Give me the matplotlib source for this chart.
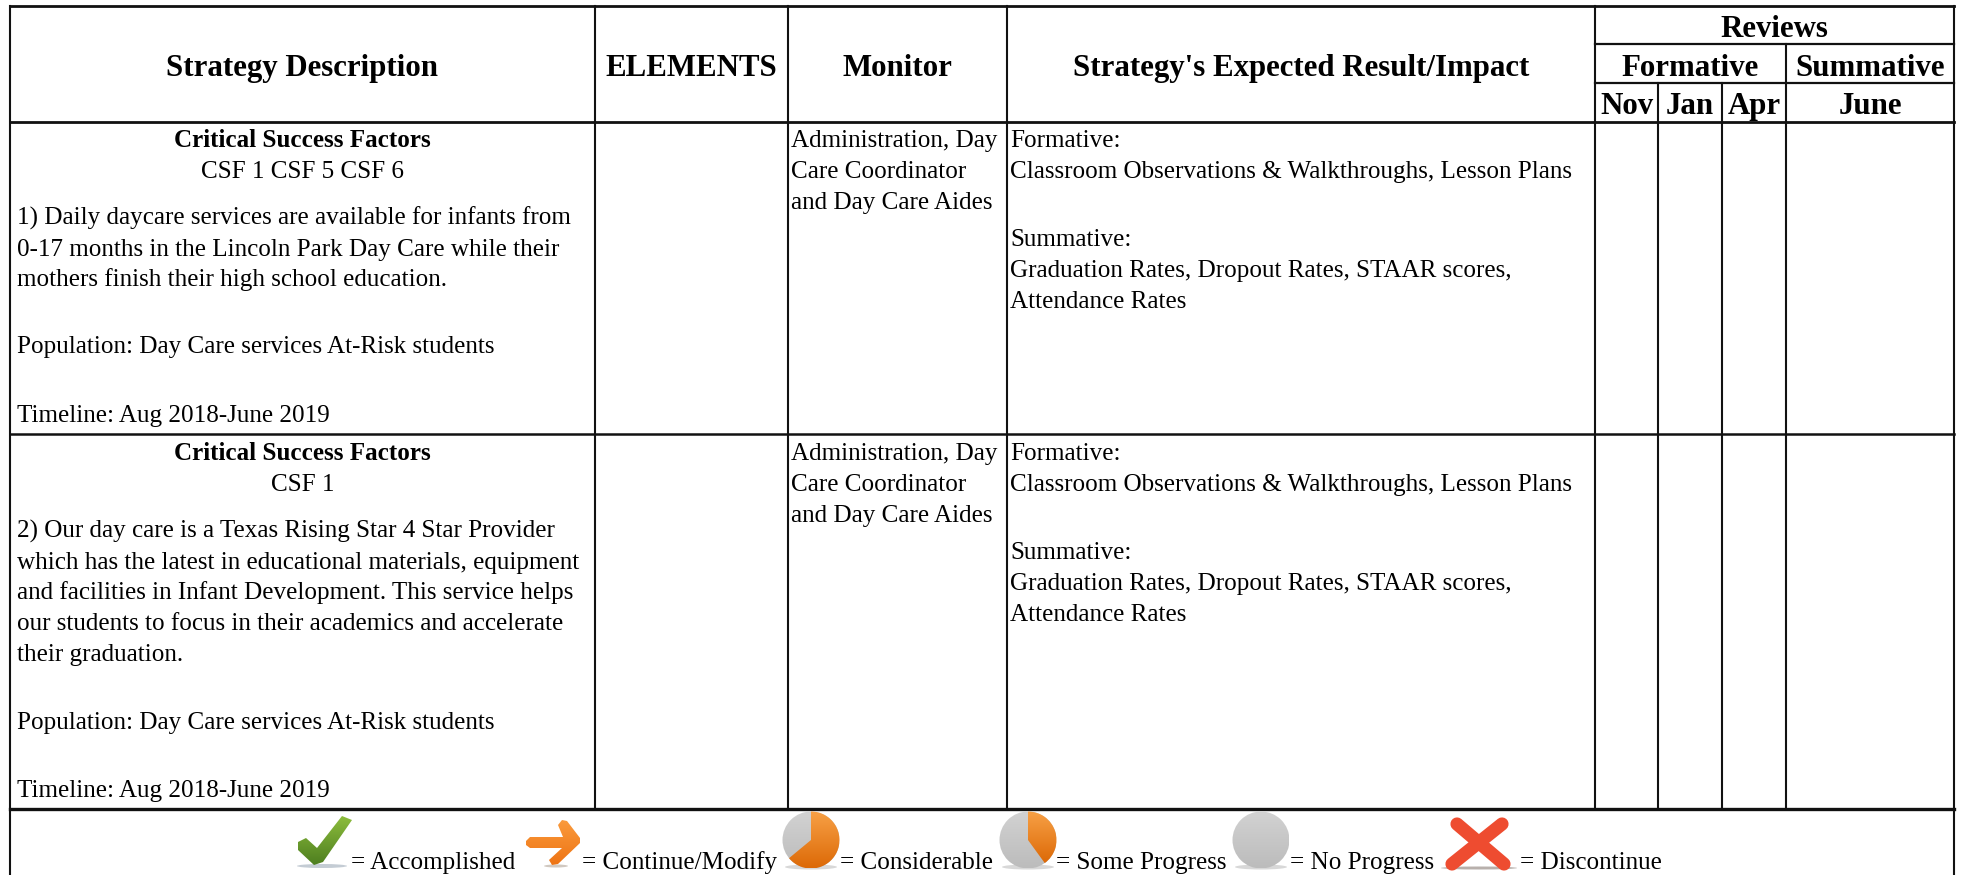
"""Campus plan strategy table with review columns and status legend."""
import matplotlib
matplotlib.use("Agg")
import matplotlib.pyplot as plt
import numpy as np
from matplotlib.colors import to_rgb
from matplotlib.patches import Circle, Ellipse, Polygon, Wedge

plt.rcParams["font.family"] = ["Liberation Serif", "DejaVu Serif"]

W, H = 1961, 875
BODY = 18.1
HEAD = 22.2

HEADERS = ["Strategy Description", "ELEMENTS", "Monitor", "Strategy's Expected Result/Impact"]
REVIEWS = "Reviews"
REVIEW_GROUPS = ["Formative", "Summative"]
REVIEW_MONTHS = ["Nov", "Jan", "Apr", "June"]

CSF_TITLE = "Critical Success Factors"
CSF_LABELS = ["CSF 1 CSF 5 CSF 6", "CSF 1"]
STRATEGY_1 = [
    "1) Daily daycare services are available for infants from",
    "0-17 months in the Lincoln Park Day Care while their",
    "mothers finish their high school education.",
    "Population: Day Care services At-Risk students",
    "Timeline: Aug 2018-June 2019",
]
STRATEGY_2 = [
    "2) Our day care is a Texas Rising Star 4 Star Provider",
    "which has the latest in educational materials, equipment",
    "and facilities in Infant Development. This service helps",
    "our students to focus in their academics and accelerate",
    "their graduation.",
    "Population: Day Care services At-Risk students",
    "Timeline: Aug 2018-June 2019",
]
MONITOR = ["Administration, Day", "Care Coordinator", "and Day Care Aides"]
IMPACT = [
    "Formative:",
    "Classroom Observations & Walkthroughs, Lesson Plans",
    "Summative:",
    "Graduation Rates, Dropout Rates, STAAR scores,",
    "Attendance Rates",
]
LEGEND_LABELS = ["= Accomplished", "= Continue/Modify", "= Considerable",
                 "= Some Progress", "= No Progress", "= Discontinue"]
PIE_FRACTIONS = [0.64, 0.40, 0.0]

# pixel layout
COL_X = [10, 595, 788, 1007, 1595, 1954]
MONTH_X = [1595, 1658, 1722, 1786, 1954]
ROW_Y = [6, 122, 434, 809]
STRATEGY_1_Y = [225, 256, 286, 353, 422]
STRATEGY_2_Y = [538, 569, 599, 630, 661, 729, 797]
MONITOR_Y = [147, 178, 209]
IMPACT_Y = [147, 178, 246, 277, 308]
ROW2_OFFSET = 313
LEGEND_X = [351, 582, 840, 1056, 1290, 1520]
LEGEND_Y = 869
PIE_X = [811, 1028, 1261]

fig = plt.figure(figsize=(W / 100, H / 100), dpi=100)
ax = fig.add_axes([0, 0, 1, 1])
ax.set_xlim(0, W)
ax.set_ylim(H, 0)
ax.axis("off")


def _hline(y, x0=COL_X[0], x1=COL_X[-1], lw=1.6):
    ax.plot([x0, x1], [y, y], color="#111111", lw=lw, solid_capstyle="projecting")


def _vline(x, y0=ROW_Y[0], y1=ROW_Y[-1], lw=1.5):
    ax.plot([x, x], [y0, y1], color="#111111", lw=lw, solid_capstyle="projecting")


def _gradient(patch, top, bottom):
    # vertical colour ramp clipped to the patch shape
    ax.add_patch(patch)
    patch.set_facecolor("none")
    patch.set_edgecolor("none")
    (x0, y0), (x1, y1) = ax.transData.inverted().transform(
        patch.get_window_extent(fig.canvas.get_renderer()))
    ramp = np.linspace(to_rgb(top), to_rgb(bottom), 32)[:, None, :]
    im = ax.imshow(ramp, extent=(x0, x1, max(y0, y1), min(y0, y1)), origin="upper",
                   aspect="auto", interpolation="bilinear", zorder=patch.get_zorder())
    im.set_clip_path(patch)
    ax.set_xlim(0, W)
    ax.set_ylim(H, 0)


def _pie(cx, cy, frac, r=28.5):
    ax.add_patch(Ellipse((cx, cy + 27), 52, 5, color="#d8d8d8", lw=0, zorder=1))
    _gradient(Circle((cx, cy), r, zorder=2), "#d2d2d2", "#bcbcbc")
    if frac > 0:
        _gradient(Wedge((cx, cy), r, -90, -90 + 360 * frac, zorder=3), "#f7a045", "#dd6a08")


# grid
_hline(ROW_Y[0], lw=2.0)
_hline(ROW_Y[1], lw=2.0)
_hline(ROW_Y[2], lw=1.8)
_hline(ROW_Y[3], lw=2.4)
_hline(44, MONTH_X[0], MONTH_X[-1])
_hline(83, MONTH_X[0], MONTH_X[-1])
for x in COL_X:
    _vline(x, y1=H if x in (COL_X[0], COL_X[-1]) else ROW_Y[-1])
_vline(MONTH_X[3], 44, ROW_Y[-1])
for x in MONTH_X[1:3]:
    _vline(x, 83, ROW_Y[-1])

# header
head_x = [(COL_X[i] + COL_X[i + 1]) / 2 for i in range(4)]
for x, label in zip(head_x, HEADERS):
    ax.text(x, 76, label, ha="center", va="baseline", fontsize=HEAD, fontweight="bold")
ax.text((MONTH_X[0] + MONTH_X[-1]) / 2, 37, REVIEWS, ha="center", va="baseline",
        fontsize=HEAD, fontweight="bold")
for x, label in zip([(MONTH_X[0] + MONTH_X[3]) / 2, (MONTH_X[3] + MONTH_X[4]) / 2], REVIEW_GROUPS):
    ax.text(x, 76, label, ha="center", va="baseline", fontsize=HEAD, fontweight="bold")
for i, label in enumerate(REVIEW_MONTHS):
    ax.text((MONTH_X[i] + MONTH_X[i + 1]) / 2, 114, label, ha="center", va="baseline",
            fontsize=HEAD, fontweight="bold")

# body rows
csf_x = (COL_X[0] + COL_X[1]) / 2
for k, csf in enumerate(CSF_LABELS):
    dy = k * ROW2_OFFSET
    ax.text(csf_x, 147 + dy, CSF_TITLE, ha="center", va="baseline", fontsize=BODY, fontweight="bold")
    ax.text(csf_x, 178 + dy, csf, ha="center", va="baseline", fontsize=BODY)
    for y, line in zip(MONITOR_Y, MONITOR):
        ax.text(COL_X[2] + 3, y + dy, line, va="baseline", fontsize=BODY)
    for y, line in zip(IMPACT_Y, IMPACT):
        ax.text(COL_X[3] + 3, y + dy, line, va="baseline", fontsize=BODY)
for y, line in zip(STRATEGY_1_Y, STRATEGY_1):
    ax.text(17, y, line, va="baseline", fontsize=BODY)
for y, line in zip(STRATEGY_2_Y, STRATEGY_2):
    ax.text(17, y, line, va="baseline", fontsize=BODY)

# legend
for x, label in zip(LEGEND_X, LEGEND_LABELS):
    ax.text(x, LEGEND_Y, label, va="baseline", fontsize=BODY)

# check mark
ax.add_patch(Ellipse((322, 866), 50, 4, color="#c4ccd4", lw=0, zorder=1))
_gradient(Polygon([(342, 816), (352, 820), (323, 862), (314, 865), (298, 850), (298, 842),
                   (306, 838), (317, 848)], zorder=2), "#8cbc3c", "#4e7f20")
# arrow
ax.add_patch(Ellipse((556, 866), 24, 3, color="#d0c8c0", lw=0, zorder=1))
_gradient(Polygon([(526, 841), (530, 837), (563, 837), (558, 825), (562, 820), (567, 821),
                   (580, 838), (580, 843), (558, 864), (552, 865), (549, 860), (562, 848),
                   (530, 848), (526, 845)], zorder=2), "#fa9a3c", "#ee7414")
# pies
for x, frac in zip(PIE_X, PIE_FRACTIONS):
    _pie(x, 840, frac)
# cross
ax.add_patch(Ellipse((1479, 868), 76, 3, color="#b8b0ac", lw=0, zorder=1))
ax.plot([1457, 1504], [824, 864], color="#ee4c30", lw=9.5, solid_capstyle="round", zorder=2)
ax.plot([1502, 1452], [824, 864], color="#ee4c30", lw=9.5, solid_capstyle="round", zorder=2)

fig.savefig("out.png", dpi=100)
plt.close(fig)
